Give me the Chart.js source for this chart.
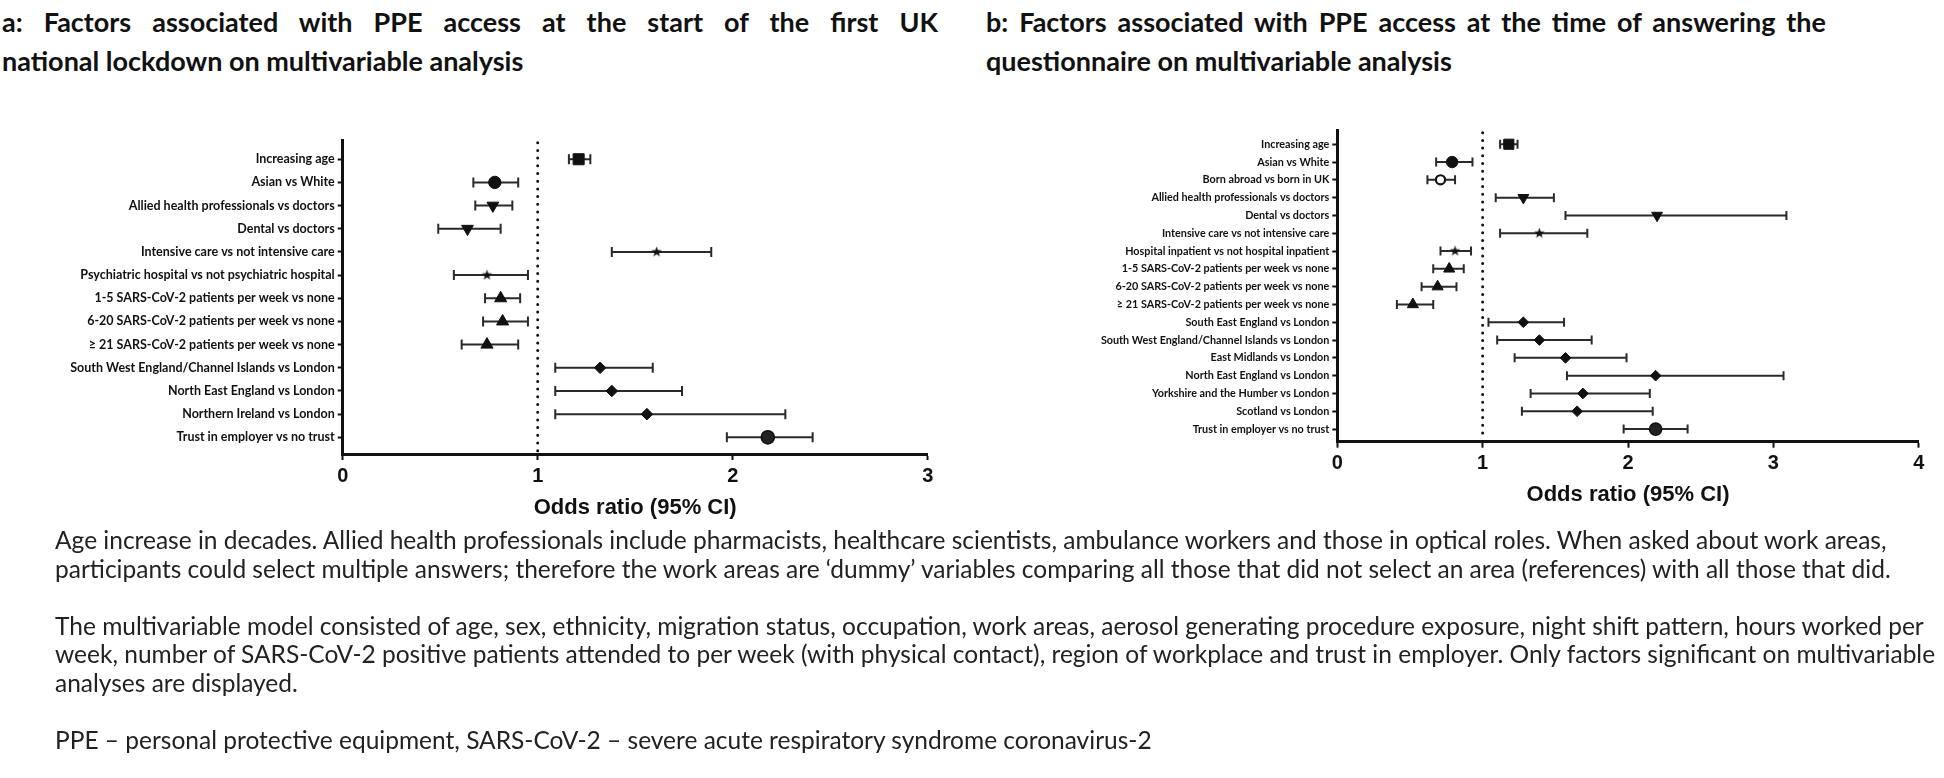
<!DOCTYPE html>
<html>
<head>
<meta charset="utf-8">
<script src="https://cdn.jsdelivr.net/npm/chart.js@4.4.1/dist/chart.umd.min.js"></script>
<style>
  body { margin: 0; width: 1944px; height: 778px; background: #fff; position: relative; overflow: hidden;
         font-family: Lato, "Open Sans", sans-serif; color: #111; }
  .title { position: absolute; font-weight: bold; font-size: 27px; line-height: 39px; color: #111; }
  .title .j { text-align: justify; text-align-last: justify; }
  .note { position: absolute; left: 55px; top: 526px; font-size: 24.5px; line-height: 28.5px; color: #222; white-space: nowrap; }
  .note .gap { height: 28.5px; }
  .box { position: absolute; }
</style>
</head>
<body>
<div class="title" style="left:2px; top:2px; width:936px;">
  <div class="j">a: Factors associated with PPE access at the start of the first UK</div>
  <div>national lockdown on multivariable analysis</div>
</div>
<div class="title" style="left:986px; top:2px; width:840px;">
  <div class="j">b: Factors associated with PPE access at the time of answering the</div>
  <div>questionnaire on multivariable analysis</div>
</div>

<div class="box" style="left:0; top:120px;"><canvas id="chartA" width="960" height="420"></canvas></div>
<div class="box" style="left:980px; top:110px;"><canvas id="chartB" width="964" height="400"></canvas></div>

<div class="note">
  <div>Age increase in decades. Allied health professionals include pharmacists, healthcare scientists, ambulance workers and those in optical roles. When asked about work areas,</div>
  <div>participants could select multiple answers; therefore the work areas are ‘dummy’ variables comparing all those that did not select an area (references) with all those that did.</div>
  <div class="gap"></div>
  <div>The multivariable model consisted of age, sex, ethnicity, migration status, occupation, work areas, aerosol generating procedure exposure, night shift pattern, hours worked per</div>
  <div>week, number of SARS-CoV-2 positive patients attended to per week (with physical contact), region of workplace and trust in employer. Only factors significant on multivariable</div>
  <div>analyses are displayed.</div>
  <div class="gap"></div>
  <div>PPE – personal protective equipment, SARS-CoV-2 – severe acute respiratory syndrome coronavirus-2</div>
</div>

<script>
// panel a: start of first UK lockdown
const labelsA = [
  'Increasing age',
  'Asian vs White',
  'Allied health professionals vs doctors',
  'Dental vs doctors',
  'Intensive care vs not intensive care',
  'Psychiatric hospital vs not psychiatric hospital',
  '1-5 SARS-CoV-2 patients per week vs none',
  '6-20 SARS-CoV-2 patients per week vs none',
  '≥ 21 SARS-CoV-2 patients per week vs none',
  'South West England/Channel Islands vs London',
  'North East England vs London',
  'Northern Ireland vs London',
  'Trust in employer vs no trust',
];
const oddsA = [1.21, 0.78, 0.77, 0.64, 1.61, 0.74, 0.81, 0.82, 0.74, 1.32, 1.38, 1.56, 2.18];
const lowA  = [1.16, 0.67, 0.68, 0.49, 1.38, 0.57, 0.73, 0.72, 0.61, 1.09, 1.09, 1.09, 1.97];
const highA = [1.27, 0.90, 0.87, 0.81, 1.89, 0.95, 0.91, 0.95, 0.90, 1.59, 1.74, 2.27, 2.41];
const markerA = ['square', 'circle', 'down', 'down', 'star', 'star', 'up', 'up', 'up',
                 'diamond', 'diamond', 'diamond', 'big'];

// panel b: time of answering the questionnaire
const labelsB = [
  'Increasing age',
  'Asian vs White',
  'Born abroad vs born in UK',
  'Allied health professionals vs doctors',
  'Dental vs doctors',
  'Intensive care vs not intensive care',
  'Hospital inpatient vs not hospital inpatient',
  '1-5 SARS-CoV-2 patients per week vs none',
  '6-20 SARS-CoV-2 patients per week vs none',
  '≥ 21 SARS-CoV-2 patients per week vs none',
  'South East England vs London',
  'South West England/Channel Islands vs London',
  'East Midlands vs London',
  'North East England vs London',
  'Yorkshire and the Humber vs London',
  'Scotland vs London',
  'Trust in employer vs no trust',
];
const oddsB = [1.18, 0.79, 0.71, 1.28, 2.20, 1.39, 0.81, 0.77, 0.69, 0.52, 1.28, 1.39, 1.57, 2.19, 1.69, 1.65, 2.19];
const lowB  = [1.12, 0.68, 0.62, 1.09, 1.57, 1.12, 0.71, 0.66, 0.58, 0.41, 1.04, 1.10, 1.22, 1.58, 1.33, 1.27, 1.97];
const highB = [1.24, 0.93, 0.81, 1.49, 3.09, 1.72, 0.92, 0.87, 0.82, 0.66, 1.56, 1.75, 1.99, 3.07, 2.15, 2.17, 2.41];
const markerB = ['square', 'circle', 'open', 'down', 'down', 'star', 'star', 'up', 'up', 'up',
                 'diamond', 'diamond', 'diamond', 'diamond', 'diamond', 'diamond', 'big'];

const INK = '#111';

// small filled 5 point star, used as a point style
function makeStar(r) {
  const c = document.createElement('canvas');
  c.width = c.height = Math.ceil(r * 2 + 2);
  const g = c.getContext('2d');
  const cx = c.width / 2, cy = c.height / 2;
  g.beginPath();
  for (let i = 0; i < 10; i++) {
    const rad = i % 2 ? r * 0.42 : r;
    const a = -Math.PI / 2 + i * Math.PI / 5;
    g.lineTo(cx + rad * Math.cos(a), cy + rad * Math.sin(a));
  }
  g.closePath();
  g.fillStyle = INK;
  g.fill();
  return c;
}
const star = makeStar(5.5);

function styleOf(m, small) {
  const k = small ? 0.92 : 1;
  switch (m) {
    case 'square':  return {ps: 'rect', r: 7.8 * k, rot: 0, fill: INK, bw: 1};
    case 'circle':  return {ps: 'circle', r: 6.2 * k, rot: 0, fill: INK, bw: 1};
    case 'open':    return {ps: 'circle', r: 4.6, rot: 0, fill: '#fff', bw: 2.2};
    case 'down':    return {ps: 'triangle', r: 6.8 * k, rot: 180, fill: INK, bw: 1};
    case 'up':      return {ps: 'triangle', r: 7 * k, rot: 0, fill: INK, bw: 1};
    case 'star':    return {ps: star, r: 6, rot: 0, fill: INK, bw: 0};
    case 'diamond': return {ps: 'rectRot', r: 5.8 * k, rot: 0, fill: INK, bw: 1};
    default:        return {ps: 'circle', r: 6.6 * k, rot: 0, fill: '#222', bw: 1.5};
  }
}

// CI whiskers and the dotted line at OR = 1
const forestBits = {
  id: 'forestBits',
  beforeDatasetsDraw(chart, args, opts) {
    const {ctx, chartArea, scales: {x, y}} = chart;
    const ds = chart.data.datasets[0];
    ctx.save();
    const xr = x.getPixelForValue(1);
    ctx.strokeStyle = INK;
    ctx.lineWidth = 3;
    ctx.lineCap = 'round';
    ctx.setLineDash([0, 7.7]);
    ctx.beginPath();
    ctx.moveTo(xr, chartArea.top + 2);
    ctx.lineTo(xr, chartArea.bottom - 2);
    ctx.stroke();
    ctx.setLineDash([]);
    ctx.lineCap = 'butt';
    ctx.strokeStyle = '#2a2a2a';
    ctx.lineWidth = 2;
    ds.low.forEach((lo, i) => {
      const py = y.getPixelForValue(i);
      const x1 = x.getPixelForValue(lo);
      const x2 = x.getPixelForValue(ds.high[i]);
      ctx.beginPath();
      ctx.moveTo(x1, py); ctx.lineTo(x2, py);
      ctx.moveTo(x1, py - opts.cap); ctx.lineTo(x1, py + opts.cap);
      ctx.moveTo(x2, py - opts.cap); ctx.lineTo(x2, py + opts.cap);
      ctx.stroke();
    });
    ctx.restore();
  }
};

function forest(id, labels, odds, low, high, markers, geo) {
  const st = markers.map(m => styleOf(m, geo.small));
  return new Chart(document.getElementById(id), {
    type: 'scatter',
    data: {
      datasets: [{
        data: odds.map((v, i) => ({x: v, y: i})),
        low: low,
        high: high,
        pointStyle: st.map(s => s.ps),
        pointRadius: st.map(s => s.r),
        pointRotation: st.map(s => s.rot),
        pointBackgroundColor: st.map(s => s.fill),
        pointBorderColor: INK,
        pointBorderWidth: st.map(s => s.bw),
      }],
    },
    options: {
      responsive: false,
      animation: false,
      events: [],
      layout: {padding: {left: 0, top: geo.top, right: geo.right, bottom: 0}},
      plugins: {
        legend: {display: false},
        tooltip: {enabled: false},
        forestBits: {cap: geo.cap},
      },
      scales: {
        x: {
          type: 'linear',
          min: 0,
          max: geo.xmax,
          ticks: {stepSize: 1, color: INK, padding: 4,
                  font: {family: 'Liberation Sans', weight: 'bold', size: 20}},
          grid: {drawOnChartArea: false, tickLength: 6, tickWidth: 2, tickColor: INK},
          border: {color: INK, width: 3},
          title: {display: true, text: 'Odds ratio (95% CI)', color: INK,
                  font: {family: 'Liberation Sans', weight: 'bold', size: 22},
                  padding: {top: 0, bottom: geo.titlePad}},
          afterFit(s) { s.height = geo.xh; s.paddingLeft = 0; s.paddingRight = 0; },
        },
        y: {
          type: 'linear',
          reverse: true,
          min: geo.ymin,
          max: geo.ymax,
          afterBuildTicks(s) { s.ticks = labels.map((_, i) => ({value: i})); },
          ticks: {autoSkip: false, color: INK, padding: 3,
                  font: {family: 'Lato', weight: 'bold', size: geo.labelSize},
                  callback: v => labels[v]},
          grid: {drawOnChartArea: false, tickLength: 5, tickWidth: 2, tickColor: INK},
          border: {color: INK, width: 3},
          afterFit(s) { s.width = geo.yw; s.paddingTop = 0; s.paddingBottom = 0; },
        },
      },
    },
    plugins: [forestBits],
  });
}

forest('chartA', labelsA, oddsA, lowA, highA, markerA,
  {top: 20.7, right: 32.3, yw: 342.7, xh: 86, titlePad: 18.8, xmax: 3,
   ymin: -0.8, ymax: 12.72, labelSize: 12.5, cap: 5, small: false});

forest('chartB', labelsB, oddsB, lowB, highB, markerB,
  {top: 20.7, right: 25.3, yw: 357.3, xh: 68.3, titlePad: 1.8, xmax: 4,
   ymin: -0.76, ymax: 16.71, labelSize: 10.8, cap: 4.5, small: true});
</script>
</body>
</html>
